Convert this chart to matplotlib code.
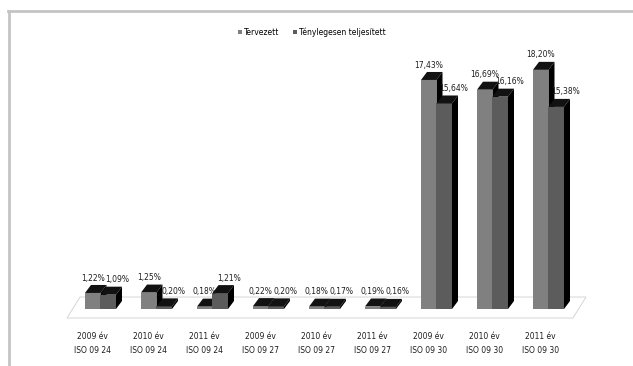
import matplotlib
matplotlib.use('Agg')
import matplotlib.pyplot as plt
from matplotlib.patches import Polygon, Patch
from matplotlib.lines import Line2D

plt.rcParams['font.family'] = ['Liberation Sans Narrow', 'DejaVu Sans']

# Data
years = ['2009 év', '2010 év', '2011 év', '2009 év', '2010 év', '2011 év', '2009 év', '2010 év', '2011 év']
standards = ['ISO 09 24', 'ISO 09 24', 'ISO 09 24', 'ISO 09 27', 'ISO 09 27', 'ISO 09 27',
             'ISO 09 30', 'ISO 09 30', 'ISO 09 30']
tervezett = [1.22, 1.25, 0.18, 0.22, 0.18, 0.19, 17.43, 16.69, 18.20]
teljesitett = [1.09, 0.20, 1.21, 0.20, 0.17, 0.16, 15.64, 16.16, 15.38]
series_names = ['Tervezett', 'Ténylegesen teljesített']

front_colors = ['#808080', '#5c5c5c']
top_color = '#121212'
side_color = '#000000'

fig = plt.figure(figsize=(6.33, 3.66), dpi=100)
ax = fig.add_axes([0, 0, 1, 1])
ax.set_xlim(-1.7946, 9.509)
ax.set_ylim(-4.338, 23.516)
ax.axis('off')

w = 15.5 / 56       # bar width (category units)
dx = 6 / 56         # 3d depth, x
dy = 8 / 13.14      # 3d depth, y

# floor of the 3d chart
floor = Polygon([(-0.598, -0.685), (8.4375, -0.685), (8.67, 0.913), (-0.366, 0.913)],
                closed=True, facecolor='white', edgecolor='#cfcfcf', lw=0.6, zorder=1)
ax.add_patch(floor)

x = list(range(len(tervezett)))
for i in x:
    for k, vals in enumerate([tervezett, teljesitett]):
        v = vals[i]
        x0 = i - w + k * w
        z = 2 + k
        ax.bar(x0, v, width=w, align='edge', color=front_colors[k], edgecolor='none', zorder=z)
        ax.add_patch(Polygon([(x0, v), (x0 + w, v), (x0 + w + dx, v + dy), (x0 + dx, v + dy)],
                             closed=True, facecolor=top_color, edgecolor='none', zorder=z))
        ax.add_patch(Polygon([(x0 + w, 0), (x0 + w, v), (x0 + w + dx, v + dy), (x0 + w + dx, dy)],
                             closed=True, facecolor=side_color, edgecolor='none', zorder=z))
        label = f'{v:.2f}%'.replace('.', ',')
        off = -3 if k == 0 else 6
        ax.annotate(label, xy=(x0 + w / 2 + dx / 2, v + dy), xytext=(off * 0.72, 5),
                    textcoords='offset points', ha='center', va='center',
                    fontsize=5.5, color='#1e1e1e', zorder=10)

# category labels
for i in x:
    ax.annotate(years[i], xy=(i, 0), xytext=(-8 * 0.72, -20), textcoords='offset points',
                ha='center', va='center', fontsize=5.5, color='#1e1e1e')
    ax.annotate(standards[i], xy=(i, 0), xytext=(-8 * 0.72, -30), textcoords='offset points',
                ha='center', va='center', fontsize=5.5, color='#1e1e1e')

# legend
handles = [Patch(facecolor=front_colors[0]), Patch(facecolor=front_colors[1])]
fig.legend(handles, series_names, loc='center', bbox_to_anchor=(312 / 633, 1 - 32 / 366),
           ncol=2, frameon=False, fontsize=5.5, handlelength=0.5, handleheight=0.5,
           handletextpad=0.3, columnspacing=1.8)

# outer frame (top and left edges)
fig.add_artist(Line2D([8 / 633, 1], [1 - 11 / 366, 1 - 11 / 366], color='#c4c4c4', lw=2))
fig.add_artist(Line2D([9 / 633, 9 / 633], [0, 1 - 11 / 366], color='#c4c4c4', lw=2))

plt.savefig('out.png', dpi=100)
